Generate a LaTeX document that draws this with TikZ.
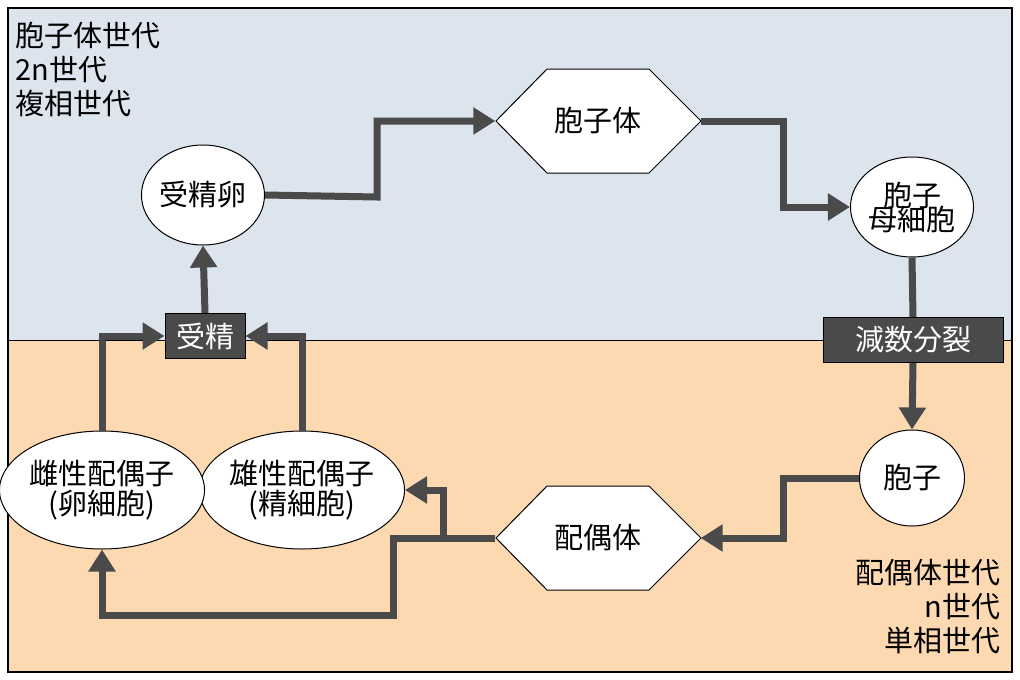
\documentclass[tikz,border=0pt]{standalone}
\usepackage{fontspec}
\setmainfont{Noto Sans CJK JP}
\usetikzlibrary{arrows.meta,shapes.geometric}
\definecolor{topbg}{HTML}{DCE4EE}
\definecolor{botbg}{HTML}{FDD9B2}
\definecolor{dk}{HTML}{4A4A4A}
\begin{document}
\begin{tikzpicture}[x=1pt,y=-1pt,
  every node/.style={font=\fontsize{29}{32}\selectfont},
  cell/.style={ellipse,draw=black,fill=white,line width=1pt,inner sep=0pt,align=center},
  box/.style={draw=black,fill=dk,text=white,line width=1pt,inner sep=0pt},
  hexn/.style={minimum width=205pt,minimum height=104pt,inner sep=0pt},
  conn/.style={draw=dk,line width=7pt,-{Triangle[length=22pt,width=26pt]}},
  plain/.style={draw=dk,line width=7pt}]
\useasboundingbox (0,0) rectangle (1020,680);
\fill[topbg] (8,8) rectangle (1012,340);
\fill[botbg] (8,340) rectangle (1012,672);
\draw[line width=1pt] (8,340) -- (1012,340);
\draw[line width=1.2pt] (8,8) rectangle (1012,672);
% nodes
\node[cell,minimum width=105pt,minimum height=100pt] (zyg) at (203,195) {受精卵};
\draw[line width=1pt,fill=white] (496,121) -- (547,69) -- (649,69) -- (701,121) -- (649,173) -- (547,173) -- cycle;
\node[hexn] (spo) at (598,121) {胞子体};
\node[cell,minimum width=105pt,minimum height=100pt] (smc) at (912,207) {胞子\\[-8pt]母細胞};
\node[box,minimum width=180pt,minimum height=45pt] (mei) at (913,340) {減数分裂};
\node[cell,minimum width=105pt,minimum height=96pt] (spr) at (912,478) {胞子};
\draw[line width=1pt,fill=white] (496,538) -- (547,486) -- (649,486) -- (701,538) -- (649,590) -- (547,590) -- cycle;
\node[hexn] (gam) at (598,538) {配偶体};
\node[cell,minimum width=178pt,minimum height=118pt] (male) at (302,490) {雄性配偶子\\[-2pt](精細胞)};
\node[cell,minimum width=178pt,minimum height=118pt] (fem) at (102,490) {雌性配偶子\\[-2pt](卵細胞)};
\node[box,minimum width=80pt,minimum height=45pt] (fer) at (205,336) {受精};
% labels
\node[anchor=west,align=left] (lt) at (12,69) {胞子体世代\\[2pt]2n世代\\[2pt]複相世代};
\node[anchor=east,align=right] (lb) at (1004,607) {配偶体世代\\[2pt]n世代\\[2pt]単相世代};
% connectors
\coordinate (a1) at (377,197); \coordinate (a2) at (377,121);
\draw[conn] (zyg.east) -- (a1) -- (a2) -- (spo.west);
\coordinate (b1) at (783,121); \coordinate (b2) at (783,207);
\draw[conn] (spo.east) -- (b1) -- (b2) -- (smc.west);
\draw[plain] (smc.south) -- (mei.north);
\draw[conn] (mei.south) -- (spr.north);
\coordinate (c1) at (783,478); \coordinate (c2) at (783,538);
\draw[conn] (spr.west) -- (c1) -- (c2) -- (gam.east);
\coordinate (d1) at (443,538); \coordinate (d2) at (443,490);
\draw[conn] (gam.west) -- (d1) -- (d2) -- (male.east);
\coordinate (e1) at (393,538); \coordinate (e2) at (393,615); \coordinate (e3) at (102,615);
\draw[conn] (d1) -- (e1) -- (e2) -- (e3) -- (fem.south);
\coordinate (f1) at (102,336);
\draw[conn] (fem.north) -- (f1) -- (fer.west);
\coordinate (g1) at (302,336);
\draw[conn] (male.north) -- (g1) -- (fer.east);
\draw[conn] (fer.north) -- (zyg.south);
\end{tikzpicture}
\end{document}
